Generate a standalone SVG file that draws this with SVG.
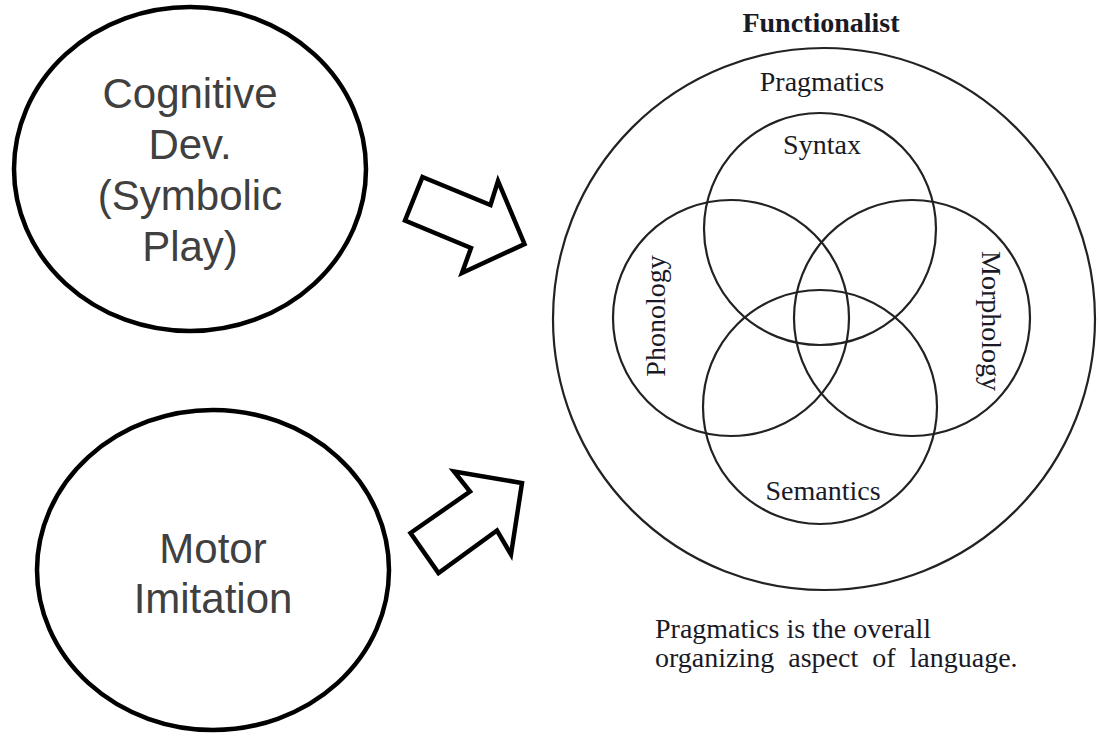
<svg xmlns="http://www.w3.org/2000/svg" width="1099" height="737" viewBox="0 0 1099 737">
<style>
.node{fill:#fff;stroke:#000;stroke-width:4.5}
.arrow{fill:#fff;stroke:#000;stroke-width:4.5;stroke-linejoin:miter}
.ring{fill:none;stroke:#222;stroke-width:2.2}
.sans{font-family:"Liberation Sans",Arial,sans-serif;font-size:42px;fill:#404040;text-anchor:middle}
.serif{font-family:"Liberation Serif","Times New Roman",serif;font-size:28px;fill:#1a1a26}
.mid{text-anchor:middle}
</style>
<rect width="1099" height="737" fill="#fff"/>
<g id="cognitive">
<ellipse class="node" cx="190" cy="169" rx="176" ry="162"/>
<text class="sans" x="190" y="108">Cognitive</text>
<text class="sans" x="190" y="159">Dev.</text>
<text class="sans" x="190" y="210">(Symbolic</text>
<text class="sans" x="190" y="261">Play)</text>
</g>
<g id="motor">
<ellipse class="node" cx="213" cy="570" rx="176" ry="160"/>
<text class="sans" x="213" y="563">Motor</text>
<text class="sans" x="213" y="613">Imitation</text>
</g>
<g id="connectors">
<polygon class="arrow" points="422.5,177 490.5,205 498,181 524.5,244 462,273 471,248 405,220.5"/>
<polygon class="arrow" points="410.5,533 470,491.5 454,471.5 522,483 511,554.5 497,530.5 438.5,573"/>
</g>
<g id="functionalist">
<text class="serif mid" x="821" y="32" font-weight="bold" font-size="31">Functionalist</text>
<circle class="ring" cx="824" cy="319" r="271"/>
<text class="serif mid" x="822" y="91">Pragmatics</text>
</g>
<g id="syntax">
<circle class="ring" cx="820" cy="229" r="116"/>
<text class="serif mid" x="822" y="154">Syntax</text>
</g>
<g id="phonology">
<circle class="ring" cx="731" cy="318" r="118"/>
<text class="serif mid" transform="translate(665,316) rotate(-90)">Phonology</text>
</g>
<g id="morphology">
<circle class="ring" cx="912" cy="318" r="118"/>
<text class="serif mid" transform="translate(982,321) rotate(90)">Morphology</text>
</g>
<g id="semantics">
<circle class="ring" cx="820" cy="407" r="117"/>
<text class="serif mid" x="823" y="500">Semantics</text>
</g>
<g id="caption">
<text class="serif" x="655" y="638">Pragmatics is the overall</text>
<text class="serif" x="655" y="667" word-spacing="7">organizing aspect of language.</text>
</g>
</svg>
